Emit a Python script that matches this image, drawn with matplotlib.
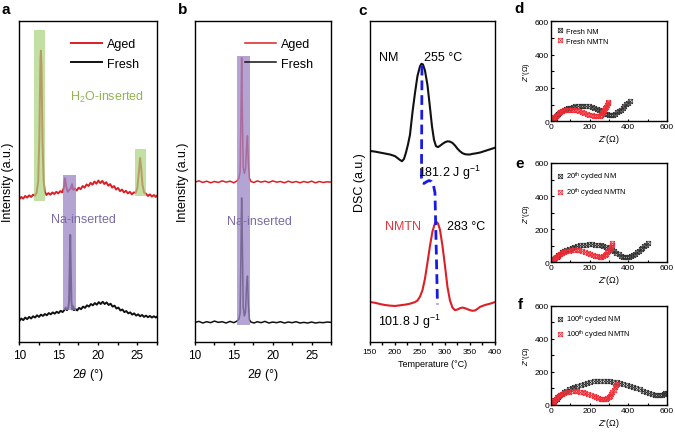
import numpy as np
import matplotlib
matplotlib.use("Agg")
import matplotlib.pyplot as plt
from matplotlib.path import Path
from matplotlib.patches import Rectangle
from matplotlib.ticker import MultipleLocator

plt.rcParams['font.family'] = ['Liberation Sans', 'DejaVu Sans']
plt.rcParams['mathtext.fontset'] = 'custom'
plt.rcParams['mathtext.rm'] = 'Liberation Sans'
plt.rcParams['mathtext.it'] = 'Liberation Sans:italic'
plt.rcParams['axes.linewidth'] = 1.0

RED = '#dc1f26'
BLK = '#111111'

# ---- panel a : XRD (aged vs fresh), intensity in arbitrary units (0-1) ----
a_fresh_x = [10.00, 10.25, 10.50, 10.75, 11.00, 11.25, 11.50, 11.75, 12.00, 12.25, 12.50, 12.75,
             13.00, 13.25, 13.50, 13.75, 14.00, 14.25, 14.50, 14.75, 15.00, 15.25, 15.50, 15.75,
             15.90, 16.05, 16.20, 16.32, 16.40, 16.47, 16.54, 16.62, 16.72, 16.85, 16.95, 17.10,
             17.35, 17.60, 17.85, 18.10, 18.35, 18.60, 18.85, 19.10, 19.35, 19.60, 19.85, 20.10,
             20.35, 20.60, 20.85, 21.10, 21.35, 21.60, 21.85, 22.10, 22.35, 22.60, 22.85, 23.10,
             23.35, 23.60, 23.85, 24.10, 24.35, 24.60, 24.85, 25.10, 25.35, 25.60, 25.85, 26.10,
             26.35, 26.60, 26.85, 27.10, 27.35, 27.50]
a_fresh_y = [.066, .074, .069, .077, .072, .079, .074, .081, .077, .084, .079, .086,
             .082, .088, .084, .091, .087, .093, .089, .095, .091, .098, .094, .101,
             .108, .100, .104, .125, .230, .334, .240, .130, .102, .112, .100, .104,
             .099, .107, .103, .111, .107, .115, .111, .119, .115, .122, .117, .125,
             .119, .126, .119, .124, .116, .120, .111, .114, .105, .108, .099, .102,
             .094, .097, .090, .093, .086, .090, .083, .087, .081, .085, .079, .083,
             .078, .082, .077, .081, .077, .080]
a_aged_x = [10.00, 10.25, 10.50, 10.75, 11.00, 11.25, 11.50, 11.75, 12.00, 12.20, 12.40, 12.55,
            12.68, 12.75, 12.82, 12.95, 13.10, 13.25, 13.45, 13.70, 13.95, 14.20, 14.45, 14.70,
            14.95, 15.20, 15.45, 15.65, 15.80, 15.95, 16.15, 16.35, 16.55, 16.70, 16.85, 17.05,
            17.30, 17.55, 17.80, 18.05, 18.30, 18.55, 18.80, 19.05, 19.30, 19.55, 19.80, 20.05,
            20.30, 20.55, 20.80, 21.05, 21.30, 21.55, 21.80, 22.05, 22.30, 22.55, 22.80, 23.05,
            23.30, 23.55, 23.80, 24.05, 24.30, 24.55, 24.80, 25.00, 25.20, 25.35, 25.50, 25.65,
            25.85, 26.10, 26.35, 26.60, 26.85, 27.10, 27.35, 27.50]
a_aged_y = [.445, .452, .447, .455, .450, .457, .452, .459, .456, .465, .500, .640,
            .880, .907, .860, .620, .500, .468, .458, .464, .459, .466, .461, .468,
            .463, .470, .466, .480, .510, .485, .468, .474, .478, .492, .474, .478,
            .472, .481, .476, .486, .481, .491, .486, .496, .490, .500, .493, .503,
            .495, .502, .492, .498, .487, .492, .481, .486, .475, .480, .470, .475,
            .466, .471, .463, .468, .460, .466, .465, .480, .530, .573, .540, .490,
            .466, .462, .455, .460, .453, .458, .452, .456]

# ---- panel b : XRD ----
b_x = [10.0, 10.5, 11.0, 11.5, 12.0, 12.5, 13.0, 13.5, 14.0, 14.5, 15.0, 15.4, 15.65, 15.8,
       15.9, 16.0, 16.1, 16.2, 16.35, 16.5, 16.62, 16.75, 16.86, 17.0, 17.2, 17.6, 18.0, 18.5,
       19.0, 19.5, 20.0, 20.5, 21.0, 21.5, 22.0, 22.5, 23.0, 23.5, 24.0, 24.5, 25.0, 25.5,
       26.0, 26.5, 27.0, 27.5]
b_aged_y = [.498, .502, .497, .501, .496, .500, .497, .502, .498, .501, .496, .502, .510, .530,
            .680, .885, .700, .545, .525, .540, .600, .642, .560, .510, .500, .497, .502, .498,
            .501, .497, .502, .498, .500, .496, .501, .497, .500, .496, .500, .497, .501, .496,
            .500, .497, .499, .498]
b_fresh_y = [.062, .065, .060, .064, .061, .066, .062, .064, .060, .065, .061, .066, .072, .090,
             .260, .449, .300, .110, .082, .095, .170, .206, .120, .070, .063, .060, .064, .061,
             .065, .060, .063, .061, .064, .060, .063, .061, .064, .060, .062, .060, .063, .060,
             .062, .061, .063, .062]

# ---- panel c : DSC ----
nm_T = [150, 160, 170, 180, 190, 200, 205, 210, 214, 218, 222, 226, 230, 235, 240, 245, 250,
        253, 256, 260, 265, 270, 274, 278, 282, 286, 290, 295, 300, 305, 310, 315, 320, 325,
        330, 335, 340, 345, 350, 355, 360, 370, 380, 390, 400]
nm_dsc = [.595, .593, .590, .587, .584, .579, .573, .567, .563, .570, .590, .615, .645, .715,
          .775, .828, .858, .866, .864, .845, .800, .730, .672, .630, .610, .607, .611, .617,
          .622, .625, .624, .620, .612, .602, .594, .588, .585, .584, .584, .586, .587, .590,
          .595, .600, .605]
nmtn_T = [150, 160, 170, 180, 190, 200, 210, 220, 230, 240, 245, 250, 255, 260, 265, 270, 275,
          280, 283, 286, 290, 295, 300, 305, 310, 315, 320, 325, 330, 335, 340, 345, 350, 355,
          360, 365, 370, 380, 390, 400]
nmtn_dsc = [.125, .123, .119, .116, .114, .113, .115, .117, .120, .125, .130, .142, .162, .198,
            .248, .300, .345, .370, .374, .370, .350, .300, .238, .172, .130, .108, .100, .102,
            .106, .108, .106, .103, .100, .098, .099, .104, .110, .116, .120, .125]
shift_T = [254, 253, 254, 258, 263, 268, 273, 277, 280, 285]
shift_y = [.860, .510, .497, .494, .499, .503, .500, .488, .465, .118]

# ---- panels d-f : Nyquist plots (Z', Z'') ----
d_nm_x = [8, 12, 16, 20, 25, 31, 38, 46, 55, 65, 76, 88, 100, 113, 126, 140, 154, 168, 182, 196,
          210, 224, 237, 249, 260, 270, 280, 290, 300, 310, 320, 330, 340, 350, 360, 370, 380,
          390, 400, 410]
d_nm_y = [2, 8, 15, 22, 30, 38, 46, 53, 60, 66, 72, 77, 82, 86, 89, 91, 92, 92, 91, 89,
          85, 80, 74, 67, 60, 53, 46, 41, 38, 37, 40, 46, 53, 61, 70, 80, 90, 101, 112, 123]
d_nmtn_x = [5, 9, 13, 18, 24, 31, 39, 48, 58, 69, 81, 94, 107, 120, 133, 146, 159, 172, 185,
            198, 210, 222, 233, 243, 252, 260, 266, 271, 276, 280, 285, 289, 293, 297]
d_nmtn_y = [2, 8, 15, 23, 31, 39, 47, 54, 60, 65, 68, 70, 70, 69, 66, 62, 57, 51, 45,
            40, 36, 33, 31, 31, 34, 40, 48, 57, 67, 77, 88, 98, 108, 118]
e_nm_x = [8, 12, 17, 23, 30, 38, 47, 57, 68, 80, 93, 107, 121, 136, 151, 166, 181, 196, 211,
          226, 241, 256, 271, 286, 300, 313, 326, 338, 350, 361, 372, 383, 393, 403, 413, 423,
          433, 443, 453, 463, 473, 483, 493, 502]
e_nm_y = [2, 9, 17, 26, 35, 44, 53, 61, 69, 76, 83, 89, 94, 99, 102, 105, 107, 108, 108,
          107, 105, 102, 98, 92, 85, 77, 68, 58, 49, 41, 35, 31, 30, 32, 37, 44,
          52, 61, 70, 79, 88, 97, 106, 115]
e_nmtn_x = [6, 10, 15, 21, 28, 36, 45, 55, 66, 78, 91, 105, 119, 133, 147, 161, 175, 189, 203,
            216, 228, 240, 251, 261, 270, 278, 285, 291, 297, 303, 308, 313, 318]
e_nmtn_y = [2, 9, 17, 25, 33, 41, 48, 55, 61, 66, 70, 73, 74, 74, 72, 69, 64, 58, 52,
            46, 41, 37, 35, 35, 38, 44, 52, 61, 71, 82, 93, 104, 115]
f_nm_x = [7, 11, 16, 22, 29, 37, 46, 56, 67, 79, 92, 106, 121, 137, 153, 170, 187, 204, 221,
          238, 255, 272, 289, 306, 323, 340, 357, 374, 391, 408, 425, 442, 459, 476, 492, 508,
          523, 537, 550, 562, 573, 583, 592, 600]
f_nm_y = [2, 10, 19, 29, 39, 49, 59, 68, 77, 86, 94, 102, 109, 116, 122, 128, 133, 138, 142,
          145, 147, 147, 146, 144, 141, 137, 132, 127, 121, 115, 108, 101, 94, 87, 80, 73,
          67, 62, 58, 58, 61, 65, 70, 75]
f_nmtn_x = [6, 9, 13, 18, 24, 31, 39, 48, 58, 69, 81, 94, 108, 122, 136, 150, 164, 178, 192,
            206, 220, 233, 245, 256, 266, 275, 283, 291, 298, 305, 312, 318, 324, 330, 336, 342]
f_nmtn_y = [2, 10, 19, 28, 37, 46, 54, 61, 67, 72, 76, 80, 83, 84, 83, 80, 76, 72, 67,
            61, 55, 49, 43, 38, 35, 34, 36, 41, 48, 57, 68, 80, 93, 106, 118, 128]

# crossed-square marker used in the impedance plots
boxx = Path([(-1, -1), (1, -1), (1, 1), (-1, 1), (-1, -1), (-1, -1), (1, 1), (-1, 1), (1, -1)],
            [Path.MOVETO, Path.LINETO, Path.LINETO, Path.LINETO, Path.CLOSEPOLY,
             Path.MOVETO, Path.LINETO, Path.MOVETO, Path.LINETO])


def xrdAxes(fig, rect):
    ax = fig.add_axes(rect)
    ax.set_xlim(10, 27.5)
    ax.set_ylim(0, 1)
    ax.set_yticks([])
    ax.xaxis.set_major_locator(MultipleLocator(5))
    ax.xaxis.set_minor_locator(MultipleLocator(2.5))
    ax.tick_params(axis='x', which='both', direction='out', length=2.2, width=1,
                   labelsize=8.5, pad=2.5)
    ax.set_xlabel(r'2$\theta$ (°)', fontsize=9, labelpad=4)
    ax.set_ylabel('Intensity (a.u.)', fontsize=9, labelpad=4)
    return ax


def xrdLegend(ax):
    ax.legend(loc='upper right', frameon=False, fontsize=9, handlelength=2.5,
              handletextpad=0.4, labelspacing=0.6, borderaxespad=1.0)


def eisAxes(fig, rect, nm, nmtn, labels):
    ax = fig.add_axes(rect)
    ax.plot(nm[0], nm[1], ls='none', marker=boxx, ms=3.2, mfc='none', mec='#303030',
            mew=0.5, label=labels[0])
    ax.plot(nmtn[0], nmtn[1], ls='none', marker=boxx, ms=3.2, mfc='none', mec='#ee2c36',
            mew=0.5, label=labels[1])
    ax.set_xlim(0, 600)
    ax.set_ylim(0, 600)
    for axis in (ax.xaxis, ax.yaxis):
        axis.set_major_locator(MultipleLocator(200))
        axis.set_minor_locator(MultipleLocator(100))
    ax.tick_params(which='both', direction='in', length=1.8, width=0.8, labelsize=6, pad=1.5)
    ax.set_ylabel(r"$Z$''(Ω)", fontsize=5.5, labelpad=2)
    ax.set_xlabel(r"$Z$'(Ω)", fontsize=6.5, labelpad=1.5)
    ax.legend(loc='upper left', frameon=False, fontsize=5.3, handlelength=0.6,
              handletextpad=0.5, labelspacing=0.35, borderaxespad=0.6, borderpad=0.3)
    return ax


def main():
    fig = plt.figure(figsize=(6.75, 4.35), dpi=100)

    # a
    ax = xrdAxes(fig, [0.0286, 0.2108, 0.2040, 0.7393])
    ax.plot(a_aged_x, a_aged_y, color=RED, lw=1.4, label='Aged')
    ax.plot(a_fresh_x, a_fresh_y, color=BLK, lw=1.4, label='Fresh')
    for x0, x1, y0, y1 in [(11.9, 13.25, 0.44, 0.97), (24.7, 26.05, 0.455, 0.60)]:
        ax.add_patch(Rectangle((x0, y0), x1 - x0, y1 - y0, color='#a9d27e', alpha=0.7,
                               lw=0, zorder=3))
    ax.add_patch(Rectangle((15.6, 0.10), 1.6, 0.42, color='#9a86c6', alpha=0.75, lw=0, zorder=3))
    ax.text(21.1, 0.764, r'H$_2$O-inserted', color='#93b451', fontsize=9, ha='center',
            va='center')
    ax.text(18.2, 0.384, 'Na-inserted', color='#7b6ba6', fontsize=9, ha='center', va='center',
            zorder=4)
    xrdLegend(ax)

    # b
    ax = xrdAxes(fig, [0.2889, 0.2108, 0.2015, 0.7393])
    ax.plot(b_x, b_aged_y, color=RED, lw=1.1, label='Aged')
    ax.plot(b_x, b_fresh_y, color=BLK, lw=1.1, label='Fresh')
    ax.add_patch(Rectangle((15.45, 0.055), 1.6, 0.835, color='#9a86c6', alpha=0.75, lw=0,
                           zorder=3))
    ax.text(18.3, 0.378, 'Na-inserted', color='#7b6ba6', fontsize=9, ha='center', va='center',
            zorder=4)
    xrdLegend(ax)

    # c
    ax = fig.add_axes([0.5481, 0.2108, 0.1852, 0.7393])
    ax.plot(nm_T, nm_dsc, color=BLK, lw=1.5)
    ax.plot(nmtn_T, nmtn_dsc, color=RED, lw=1.5)
    ax.plot(shift_T, shift_y, color='#1a1ae6', lw=2.0, ls=(0, (3.5, 1.8)))
    ax.set_xlim(150, 400)
    ax.set_ylim(0, 1)
    ax.set_yticks([])
    ax.xaxis.set_major_locator(MultipleLocator(50))
    ax.xaxis.set_minor_locator(MultipleLocator(25))
    ax.tick_params(axis='x', which='both', direction='out', length=2, width=1, labelsize=6,
                   pad=2)
    ax.set_xlabel('Temperature (°C)', fontsize=6.5, labelpad=3)
    ax.set_ylabel('DSC (a.u.)', fontsize=9, labelpad=3)
    ax.text(187, 0.887, 'NM', fontsize=9, ha='center', va='center')
    ax.text(296, 0.887, '255 °C', fontsize=9, ha='center', va='center')
    ax.text(310, 0.53, r'181.2 J g$^{-1}$', fontsize=9, ha='center', va='center')
    ax.text(216, 0.363, 'NMTN', fontsize=9, ha='center', va='center', color='#e8343c')
    ax.text(343, 0.363, '283 °C', fontsize=9, ha='center', va='center')
    ax.text(229, 0.066, r'101.8 J g$^{-1}$', fontsize=9, ha='center', va='center')

    # d, e, f
    eisAxes(fig, [0.8163, 0.7189, 0.1719, 0.2299], (d_nm_x, d_nm_y), (d_nmtn_x, d_nmtn_y),
            ['Fresh NM', 'Fresh NMTN'])
    eisAxes(fig, [0.8163, 0.3947, 0.1719, 0.2283], (e_nm_x, e_nm_y), (e_nmtn_x, e_nmtn_y),
            [r'20$^{\rm th}$ cycled NM', r'20$^{\rm th}$ cycled NMTN'])
    eisAxes(fig, [0.8163, 0.0667, 0.1719, 0.2283], (f_nm_x, f_nm_y), (f_nmtn_x, f_nmtn_y),
            [r'100$^{\rm th}$ cycled NM', r'100$^{\rm th}$ cycled NMTN'])

    for lab, px, py in [('a', 6, 10.5), ('b', 183, 10), ('c', 363, 11), ('d', 519, 9),
                        ('e', 520, 164), ('f', 520, 305)]:
        fig.text(px / 675, 1 - py / 435, lab, fontsize=11, fontweight='bold', ha='center',
                 va='center')

    fig.savefig('out.png', dpi=100)


if __name__ == '__main__':
    main()
